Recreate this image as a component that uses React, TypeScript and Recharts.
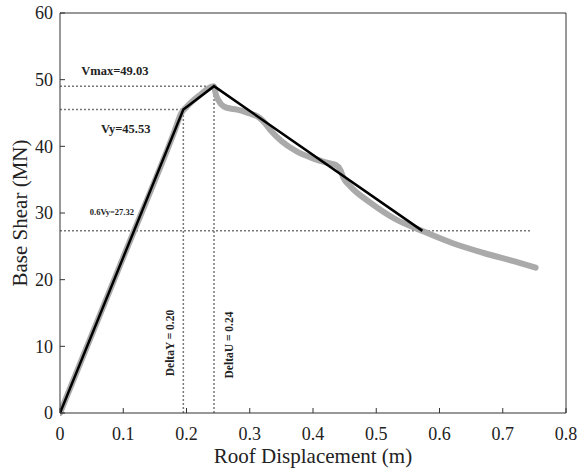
import { ComposedChart, Line, XAxis, YAxis, ReferenceDot } from "recharts";

// pushover curve
const pushX = [0, 0.1, 0.18, 0.192, 0.2, 0.22, 0.243, 0.247, 0.255, 0.263, 0.28, 0.295, 0.315, 0.323, 0.333, 0.35, 0.373, 0.4, 0.42, 0.436, 0.443, 0.448, 0.46, 0.49, 0.53, 0.573, 0.62, 0.67, 0.72, 0.752];
const pushY = [0, 23.35, 42.0, 45.0, 45.9, 47.6, 49.0, 47.6, 46.3, 45.8, 45.5, 45.1, 44.3, 43.6, 42.4, 40.8, 39.3, 38.2, 37.6, 37.2, 36.5, 35.3, 33.9, 31.6, 29.1, 27.3, 25.5, 24.0, 22.7, 21.8];

// idealised bilinear curve
const biX = [0, 0.195, 0.2435, 0.573];
const biY = [0, 45.53, 49.03, 27.32];

const deltaY = 0.195;
const deltaU = 0.2435;
const vy = 45.53;
const vmax = 49.03;
const vy06 = 27.32;
const guideEndX = 0.746;

const xTicks = [0, 0.1, 0.2, 0.3, 0.4, 0.5, 0.6, 0.7, 0.8];
const yTicks = [0, 10, 20, 30, 40, 50, 60];

const toPts = (xs: number[], ys: number[]) => xs.map((x, i) => ({ x, y: ys[i] }));

const pushData = toPts(pushX, pushY);
const biData = toPts(biX, biY);
const guides = [
  toPts([0, deltaU], [vmax, vmax]),
  toPts([0, deltaY], [vy, vy]),
  toPts([0, guideEndX], [vy06, vy06]),
  toPts([deltaY, deltaY], [0, vy]),
  toPts([deltaU, deltaU], [0, vmax]),
];

const serif = "'Liberation Serif', 'Times New Roman', serif";

function TextAt({ viewBox, text, size, rotate }: any) {
  const cx = viewBox.x + viewBox.width / 2;
  const cy = viewBox.y + viewBox.height / 2;
  return (
    <text
      x={cx}
      y={cy}
      textAnchor="middle"
      dominantBaseline="central"
      fontFamily={serif}
      fontWeight="bold"
      fontSize={size}
      fill="#222"
      transform={rotate ? `rotate(-90 ${cx} ${cy})` : undefined}
    >
      {text}
    </text>
  );
}

function XTitle({ viewBox }: any) {
  const cx = viewBox.x + viewBox.width / 2;
  return (
    <text x={cx} y={viewBox.y + 50} textAnchor="middle" fontFamily={serif} fontSize={21} fill="#222">
      Roof Displacement (m)
    </text>
  );
}

function YTitle({ viewBox }: any) {
  const x = viewBox.x + 27;
  const cy = viewBox.y + viewBox.height / 2;
  return (
    <text x={x} y={cy} textAnchor="middle" fontFamily={serif} fontSize={21} fill="#222" transform={`rotate(-90 ${x} ${cy})`}>
      Base Shear (MN)
    </text>
  );
}

const notes = [
  { x: 0.0868, y: 51.3, text: "Vmax=49.03", size: 12.5, rotate: false },
  { x: 0.104, y: 42.6, text: "Vy=45.53", size: 12.5, rotate: false },
  { x: 0.082, y: 30.1, text: "0.6Vy=27.32", size: 8.5, rotate: false },
  { x: 0.174, y: 10.5, text: "DeltaY = 0.20", size: 11.5, rotate: true },
  { x: 0.2667, y: 10.2, text: "DeltaU = 0.24", size: 11.5, rotate: true },
];

export default function App() {
  const tickStyle = { fontSize: 18, fill: "#222", fontFamily: serif };
  return (
    <div style={{ position: "absolute", left: 0, top: 0, background: "#fff" }}>
      <ComposedChart width={581} height={470} margin={{ top: 0, right: 0, bottom: 0, left: 0 }}>
        <XAxis
          type="number"
          dataKey="x"
          domain={[0, 0.8]}
          ticks={xTicks}
          allowDataOverflow
          height={57}
          tick={tickStyle}
          tickSize={-5}
          tickMargin={19}
          stroke="#333"
          tickFormatter={(v: number) => String(v)}
          label={<XTitle />}
        />
        <XAxis
          xAxisId="top"
          orientation="top"
          type="number"
          dataKey="x"
          domain={[0, 0.8]}
          ticks={xTicks}
          height={13}
          tick={false}
          tickSize={-5}
          stroke="#333"
        />
        <YAxis
          type="number"
          domain={[0, 60]}
          ticks={yTicks}
          width={60}
          tick={tickStyle}
          tickSize={-5}
          tickMargin={12}
          stroke="#333"
          label={<YTitle />}
        />
        <YAxis
          yAxisId="right"
          orientation="right"
          type="number"
          domain={[0, 60]}
          ticks={yTicks}
          width={15}
          tick={false}
          tickSize={-5}
          stroke="#333"
        />
        {guides.map((g, i) => (
          <Line
            key={i}
            data={g}
            dataKey="y"
            stroke="#777"
            strokeWidth={1.5}
            strokeDasharray="2 2"
            dot={false}
            isAnimationActive={false}
          />
        ))}
        <Line
          data={pushData}
          dataKey="y"
          type="monotone"
          stroke="#aaa"
          strokeWidth={6}
          strokeLinecap="round"
          strokeLinejoin="round"
          dot={false}
          isAnimationActive={false}
        />
        <Line
          data={biData}
          dataKey="y"
          type="linear"
          stroke="#000"
          strokeWidth={2.5}
          dot={false}
          isAnimationActive={false}
        />
        {notes.map((n, i) => (
          <ReferenceDot
            key={i}
            x={n.x}
            y={n.y}
            r={1}
            fill="none"
            stroke="none"
            label={<TextAt text={n.text} size={n.size} rotate={n.rotate} />}
          />
        ))}
      </ComposedChart>
    </div>
  );
}
